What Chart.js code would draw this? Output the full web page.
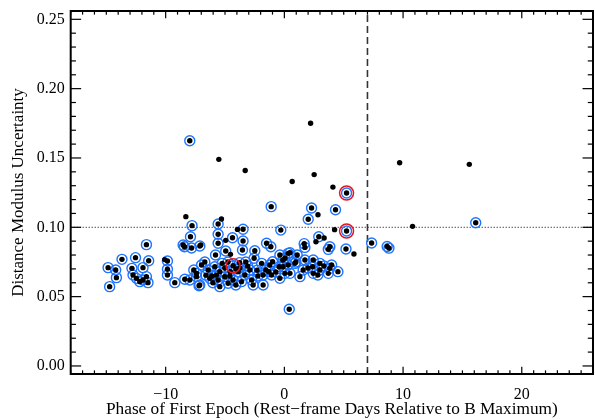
<!DOCTYPE html>
<html><head><meta charset="utf-8">
<script src="https://cdn.jsdelivr.net/npm/chart.js@4/dist/chart.umd.min.js"></script>
<style>html,body{margin:0;padding:0;background:#fff}</style>
</head><body>
<canvas id="c" width="595" height="420"></canvas>
<script>
// ---- axis limits and tick labels ----
const xRange = [-18, 26];
const yRange = [-0.0058, 0.256];
const xMajorTicks = [-10, 0, 10, 20];
const yMajorTicks = [0, 0.05, 0.10, 0.15, 0.20, 0.25];
const cutPhase = 7;          // dashed vertical line
const cutUncert = 0.10;      // dotted horizontal line

// ---- SNe circled in blue (phase, uncertainty) ----
const ringX = [-14.85,-14.72,-14.21,-14.15,-13.68,-12.54,-12.84,-12.75,-12.46,-12.18,-11.91,-11.62,-11.43,-11.62,-11.49,-11.91,-9.85,-9.85,-9.85,-9.23,
  -7.97,-7.78,-7.91,-8.53,-8.42,-7.82,-7.12,-5.58,-5.58,-5.58,-4.37,-3.48,-3.48,-4.94,-3.53,-2.49,-1.50,-1.14,-1.11,-0.30,
  -5.80,-2.55,-1.92,-0.99,-0.38,0.32,-1.23,-0.44,0.32,
  -8.39,-7.19,-7.40,-6.98,-6.42,-5.86,-5.44,-5.02,-5.58,-5.44,-7.13,-7.40,-3.90,-3.33,-2.76,-2.63,-1.79,-1.79,-1.08,-0.38,0.05,-4.32,-3.61,-4.74,-6.28,
  -4.75,-4.07,-4.56,-5.24,-3.09,-2.30,-1.32,-3.77,-6.61,-6.02,-5.73,
  -6.70,-6.11,-5.02,-4.60,-3.75,-3.25,-2.91,-2.23,-1.56,-0.72,-0.13,0.97,1.98,2.82,3.33,-7.63,-7.97,-4.09,
  0.47,1.08,1.73,2.43,2.99,2.38,2.99,2.43,1.58,0.89,0.05,-0.10,0.47,3.70,3.83,1.31,3.98,4.51,
  1.67,1.73,3.70,3.83,2.90,5.19,2.29,4.31,2.01,0.41,7.35,8.66,8.81,16.12,5.24,5.24,-4.32];
const ringY = [0.0709,0.0572,0.0692,0.0637,0.0769,0.0781,0.0704,0.0656,0.0632,0.0608,0.0709,0.0875,0.0759,0.0644,0.0601,0.0620,0.0757,0.0697,0.0656,0.0601,
  0.1624,0.1012,0.0932,0.0872,0.0860,0.0851,0.0865,0.1024,0.0950,0.0885,0.0925,0.0986,0.0901,0.0829,0.0836,0.0831,0.0885,0.0860,0.1149,0.0980,
  0.0800,0.0777,0.0740,0.0752,0.0800,0.0812,0.0728,0.0716,0.0728,
  0.0625,0.0579,0.0668,0.0728,0.0692,0.0716,0.0680,0.0644,0.0620,0.0572,0.0584,0.0644,0.0680,0.0656,0.0620,0.0584,0.0584,0.0656,0.0656,0.0632,0.0668,0.0620,0.0608,0.0596,0.0632,
  0.0750,0.0700,0.0680,0.0740,0.0720,0.0690,0.0680,0.0745,0.0655,0.0600,0.0655,
  0.0750,0.0649,0.0707,0.0649,0.0707,0.0750,0.0692,0.0649,0.0692,0.0678,0.0764,0.0750,0.0707,0.0656,0.0721,0.0692,0.0620,0.0584,
  0.0817,0.0800,0.0764,0.0764,0.0740,0.0716,0.0692,0.0668,0.0692,0.0740,0.0777,0.0716,0.0668,0.0668,0.0704,0.0644,0.0728,0.0680,
  0.0882,0.0855,0.0841,0.0860,0.0932,0.0844,0.1139,0.1127,0.1058,0.0409,0.0887,0.0862,0.0850,0.1033,0.1247,0.0973,0.0723];

// ---- SNe without ring ----
const dotX = [-5.52,-3.30,2.21,0.66,2.51,4.09,9.71,15.58,2.83,-8.30,-5.30,-3.95,4.23,10.80,-4.94,-7.04,-4.54,2.66,3.35,5.86,-10.08];
const dotY = [0.1490,0.1410,0.1750,0.1330,0.1380,0.1290,0.1466,0.1454,0.1090,0.1077,0.1060,0.0985,0.0983,0.1007,0.0906,0.0872,0.0805,0.0896,0.0923,0.0807,0.0767];

// ---- SNe circled in red ----
const redX = [5.24, 5.24, -4.32];
const redY = [0.1247, 0.0973, 0.0723];

const pts = (xs, ys) => xs.map((v, i) => ({x: v, y: ys[i]}));
const allDots = pts(ringX, ringY).concat(pts(dotX, dotY));

const fmtX = v => (v < 0 ? '\u2212' + Math.abs(v) : String(v));

const frame = {
  id: 'frame',
  afterDatasetsDraw(chart) {
    const {ctx, chartArea: a, scales: {x, y}} = chart;
    const w = a.right - a.left, h = a.bottom - a.top;
    ctx.save();
    ctx.strokeStyle = '#000';
    ctx.lineWidth = 1.2;
    const seg = (x1, y1, x2, y2) => { ctx.beginPath(); ctx.moveTo(x1, y1); ctx.lineTo(x2, y2); ctx.stroke(); };
    for (let v = Math.ceil(xRange[0]); v <= xRange[1]; v++) {
      const px = x.getPixelForValue(v);
      const L = (v % 10 === 0 ? 0.02 : 0.01) * h;
      seg(px, a.bottom, px, a.bottom - L);
      seg(px, a.top, px, a.top + L);
    }
    for (let i = 0; i <= 25; i++) {
      const py = y.getPixelForValue(i / 100);
      const L = (i % 5 === 0 ? 0.02 : 0.01) * w;
      seg(a.left, py, a.left + L, py);
      seg(a.right, py, a.right - L, py);
    }
    ctx.lineWidth = 2;
    ctx.strokeRect(a.left, a.top, w, h);
    ctx.restore();
  }
};

new Chart(document.getElementById('c'), {
  type: 'scatter',
  data: {
    datasets: [
      {type: 'line', data: [{x: xRange[0], y: cutUncert}, {x: xRange[1], y: cutUncert}],
       borderColor: '#000', borderWidth: 1, borderDash: [1, 2], pointRadius: 0, order: 5},
      {type: 'line', data: [{x: cutPhase, y: yRange[0]}, {x: cutPhase, y: yRange[1]}],
       borderColor: '#333', borderWidth: 1.6, borderDash: [7, 4], pointRadius: 0, order: 4},
      {data: pts(ringX, ringY), pointRadius: 5, pointBorderWidth: 1.4,
       pointBorderColor: '#1f74ff', pointBackgroundColor: 'rgba(0,0,0,0)', order: 3},
      {data: allDots, pointRadius: 2.7, pointBorderWidth: 0,
       pointBackgroundColor: '#000', order: 2},
      {data: pts(redX, redY), pointRadius: 7, pointBorderWidth: 1.5,
       pointBorderColor: '#e8141e', pointBackgroundColor: 'rgba(0,0,0,0)', order: 1}
    ]
  },
  options: {
    responsive: false,
    animation: false,
    events: [],
    layout: {autoPadding: false, padding: {top: 11, right: 2, left: 0, bottom: 0}},
    plugins: {legend: {display: false}, tooltip: {enabled: false}},
    scales: {
      x: {
        type: 'linear', min: xRange[0], max: xRange[1],
        afterBuildTicks: s => { s.ticks = xMajorTicks.map(v => ({value: v})); },
        afterFit: s => { s.height = 46; s.paddingLeft = 0; s.paddingRight = 0; },
        grid: {display: false, drawTicks: false},
        border: {display: false},
        ticks: {callback: v => fmtX(v), color: '#000', padding: 11, maxRotation: 0,
                font: {family: 'Liberation Serif', size: 16}},
        title: {display: true, text: 'Phase of First Epoch (Rest\u2212frame Days Relative to B Maximum)',
                color: '#000', padding: {top: 0, bottom: 0}, font: {family: 'Liberation Serif', size: 17.3}}
      },
      y: {
        type: 'linear', min: yRange[0], max: yRange[1],
        afterBuildTicks: s => { s.ticks = yMajorTicks.map(v => ({value: v})); },
        afterFit: s => { s.width = 70.7; s.paddingTop = 0; s.paddingBottom = 0; },
        grid: {display: false, drawTicks: false},
        border: {display: false},
        ticks: {callback: v => Number(v).toFixed(2), color: '#000', padding: 6,
                font: {family: 'Liberation Serif', size: 16}},
        title: {display: true, text: 'Distance Modulus Uncertainty', color: '#000',
                padding: {top: 8, bottom: 0}, font: {family: 'Liberation Serif', size: 17}}
      }
    }
  },
  plugins: [frame]
});
</script>
</body></html>
